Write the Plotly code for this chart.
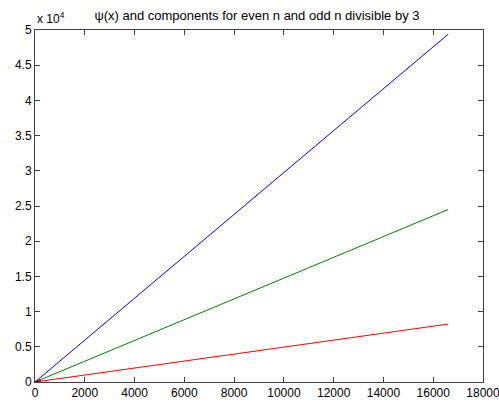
import plotly.graph_objects as go

# Endpoints of psi(x) and its two components, plus the short start segment
x_vals = [0, 16600]
psi_total = [0, 49400]
psi_even = [0, 24500]
psi_odd3 = [0, 8230]
start_x = [0, 230]
start_y = [0, 250]

y_tick_vals = [0, 5000, 10000, 15000, 20000, 25000, 30000, 35000, 40000, 45000, 50000]
y_tick_text = ["0", "0.5", "1", "1.5", "2", "2.5", "3", "3.5", "4", "4.5", "5"]
x_tick_vals = [0, 2000, 4000, 6000, 8000, 10000, 12000, 14000, 16000, 18000]
x_tick_text = ["0", "2000", "4000", "6000", "8000", "10000", "12000", "14000", "16000", "18000"]

fig = go.Figure()
fig.add_trace(go.Scatter(x=x_vals, y=psi_total, mode="lines",
                         line=dict(color="#0000ff", width=1)))
fig.add_trace(go.Scatter(x=x_vals, y=psi_even, mode="lines",
                         line=dict(color="#008000", width=1)))
fig.add_trace(go.Scatter(x=x_vals, y=psi_odd3, mode="lines",
                         line=dict(color="#ff0000", width=1)))
fig.add_trace(go.Scatter(x=start_x, y=start_y, mode="lines",
                         line=dict(color="#800000", width=2)))

font = dict(family="Liberation Sans, Arial", size=12, color="black")

axis_common = dict(
    showgrid=False, zeroline=False, showline=True, linecolor="#404040",
    linewidth=1, mirror="allticks", ticks="inside", ticklen=5,
    tickcolor="#404040", tickfont=font, automargin=False,
    ticklabeloverflow="allow",
)

fig.update_layout(
    width=499, height=403,
    margin=dict(l=35, r=16, t=30, b=21),
    paper_bgcolor="white", plot_bgcolor="white",
    showlegend=False,
    title=dict(text="ψ(x) and components for even n and odd n divisible by 3",
               x=0.515, xanchor="center", y=0.962, yanchor="middle",
               font=dict(family="Liberation Sans, Arial", size=13, color="black")),
    xaxis=dict(range=[0, 18000], tickvals=x_tick_vals, ticktext=x_tick_text, **axis_common),
    yaxis=dict(range=[0, 50000], tickvals=y_tick_vals, ticktext=y_tick_text, **axis_common),
)

fig.add_annotation(text="x 10<sup>4</sup>", xref="paper", yref="paper",
                   x=0.0, y=1.0, xanchor="left", yanchor="bottom", yshift=2,
                   showarrow=False, font=font)

fig.write_html("out.html")
